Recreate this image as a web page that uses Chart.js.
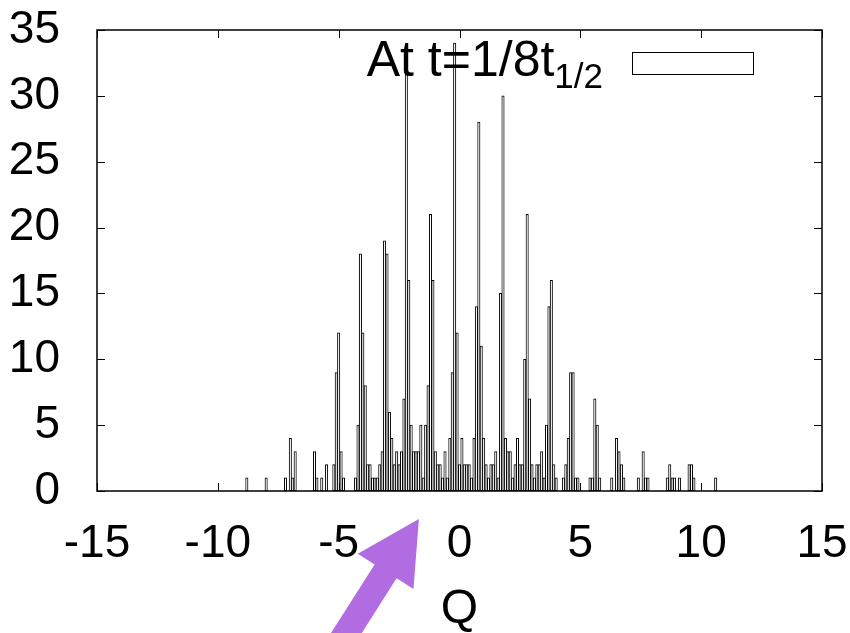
<!DOCTYPE html>
<html>
<head>
    <title>Q histogram at t=1/8 t1/2</title>
    <script src="https://cdn.jsdelivr.net/npm/chart.js"></script>
    <style>
        body {
            margin: 0;
            padding: 0;
            background-color: #ffffff;
        }

        #chart-wrap {
            width: 850px;
            height: 633px;
            position: relative;
        }
    </style>
</head>
<body>
    <div id="chart-wrap"><canvas id="histChart"></canvas></div>
    <script>
        // bin centres (Q) and counts, empty bins left out
        const qValues = [
            -8.8, -8.0, -7.2, -7.0, -6.9, -6.8, -6.0, -5.9, -5.7, -5.5,
            -5.2, -5.1, -5.0, -4.9, -4.8, -4.3, -4.2, -4.1, -4.0, -3.9,
            -3.8, -3.7, -3.6, -3.5, -3.4, -3.3, -3.2, -3.1, -3.0, -2.9,
            -2.8, -2.7, -2.6, -2.5, -2.4, -2.3, -2.2, -2.1, -2.0, -1.9,
            -1.8, -1.7, -1.6, -1.5, -1.4, -1.3, -1.2, -1.1, -1.0, -0.9,
            -0.8, -0.7, -0.6, -0.5, -0.4, -0.3, -0.2, -0.1, 0.0, 0.1,
            0.2, 0.3, 0.4, 0.5, 0.6, 0.7, 0.8, 0.9, 1.0, 1.1,
            1.2, 1.3, 1.4, 1.5, 1.6, 1.7, 1.8, 1.9, 2.0, 2.1,
            2.2, 2.3, 2.4, 2.5, 2.6, 2.7, 2.8, 2.9, 3.0, 3.1,
            3.2, 3.3, 3.4, 3.5, 3.6, 3.7, 3.8, 3.9, 4.0, 4.3,
            4.4, 4.5, 4.6, 4.7, 4.8, 4.9, 5.4, 5.5, 5.6, 5.7,
            5.8, 6.3, 6.5, 6.6, 6.7, 6.8, 7.4, 7.6, 7.7, 7.8,
            8.6, 8.7, 8.8, 8.9, 9.1, 9.5, 9.6, 9.7, 10.6
        ];
        const counts = [
            1, 1, 1, 4, 1, 3, 3, 1, 1, 2,
            2, 9, 12, 3, 1, 1, 5, 18, 12, 8,
            2, 2, 1, 1, 1, 2, 3, 19, 18, 6,
            4, 2, 3, 2, 3, 7, 32, 16, 5, 3,
            3, 3, 5, 1, 5, 8, 21, 16, 3, 2,
            2, 1, 3, 1, 4, 9, 34, 12, 2, 4,
            2, 2, 2, 1, 4, 14, 28, 11, 4, 2,
            1, 2, 2, 3, 1, 15, 30, 4, 3, 3,
            1, 2, 4, 2, 2, 10, 21, 7, 2, 1,
            2, 2, 3, 1, 5, 14, 16, 2, 1, 1,
            2, 4, 9, 9, 1, 1, 1, 1, 7, 5,
            1, 1, 4, 3, 2, 1, 1, 3, 1, 1,
            1, 2, 1, 1, 1, 2, 2, 1, 1
        ];
        const xRange = [-15, 15];
        const yRange = [0, 35];
        const tickStep = 5;
        const legendText = 'At t=1/8t';
        const legendSub = '1/2';
        const xTitle = 'Q';
        // purple pointer arrow, tip and tail given in axis units
        const arrowTip = { q: -1.68, v: -2.13 };
        const arrowTail = { q: -5.38, v: -12.8 };

        const FONT = '"Liberation Sans", Arial, Helvetica, sans-serif';
        const points = qValues.map((q, i) => ({ x: q, y: counts[i] }));

        // gnuplot style frame, inward ticks, key and the arrow
        const gnuplotBits = {
            id: 'gnuplotBits',
            afterDatasetsDraw(chart) {
                const { ctx, chartArea: a, scales: { x, y } } = chart;
                ctx.save();
                ctx.strokeStyle = '#000';
                ctx.lineWidth = 1.5;
                ctx.strokeRect(a.left, a.top, a.right - a.left, a.bottom - a.top);

                ctx.lineWidth = 1;
                ctx.beginPath();
                x.ticks.forEach(t => {
                    const px = Math.round(x.getPixelForValue(t.value)) + 0.5;
                    ctx.moveTo(px, a.bottom); ctx.lineTo(px, a.bottom - 8);
                    ctx.moveTo(px, a.top); ctx.lineTo(px, a.top + 8);
                });
                y.ticks.forEach(t => {
                    const py = Math.round(y.getPixelForValue(t.value)) + 0.5;
                    ctx.moveTo(a.left, py); ctx.lineTo(a.left + 8, py);
                    ctx.moveTo(a.right, py); ctx.lineTo(a.right - 8, py);
                });
                ctx.stroke();

                // key: text with subscript, then the sample box
                const boxRight = a.right - 69;
                const boxLeft = boxRight - 121;
                ctx.fillStyle = '#000';
                ctx.textBaseline = 'alphabetic';
                ctx.textAlign = 'left';
                ctx.font = '35px ' + FONT;
                const subW = ctx.measureText(legendSub).width;
                const subX = boxLeft - 29 - subW;
                ctx.fillText(legendSub, subX, 88);
                ctx.font = '50px ' + FONT;
                ctx.textAlign = 'right';
                ctx.fillText(legendText, subX, 76);
                ctx.fillStyle = '#fff';
                ctx.fillRect(boxLeft, 52, boxRight - boxLeft, 22);
                ctx.strokeRect(boxLeft + 0.5, 52.5, boxRight - boxLeft, 22);

                // arrow
                const tx = x.getPixelForValue(arrowTip.q), ty = y.getPixelForValue(arrowTip.v);
                const sx = x.getPixelForValue(arrowTail.q), sy = y.getPixelForValue(arrowTail.v);
                const len = Math.hypot(sx - tx, sy - ty);
                const ux = (sx - tx) / len, uy = (sy - ty) / len;
                const nx = -uy, ny = ux;
                const headLen = 62, headHalf = 33, shaftHalf = 13;
                const bx = tx + ux * headLen, by = ty + uy * headLen;
                ctx.fillStyle = '#b06ce0';
                ctx.beginPath();
                ctx.moveTo(tx, ty);
                ctx.lineTo(bx + nx * headHalf, by + ny * headHalf);
                ctx.lineTo(bx + nx * shaftHalf, by + ny * shaftHalf);
                ctx.lineTo(sx + nx * shaftHalf, sy + ny * shaftHalf);
                ctx.lineTo(sx - nx * shaftHalf, sy - ny * shaftHalf);
                ctx.lineTo(bx - nx * shaftHalf, by - ny * shaftHalf);
                ctx.lineTo(bx - nx * headHalf, by - ny * headHalf);
                ctx.closePath();
                ctx.fill();
                ctx.restore();
            }
        };

        new Chart(document.getElementById('histChart'), {
            type: 'bar',
            data: {
                datasets: [{
                    label: legendText + legendSub,
                    data: points,
                    backgroundColor: '#ffffff',
                    borderColor: '#000000',
                    borderWidth: 1,
                    borderSkipped: false,
                    barPercentage: 1.0,
                    categoryPercentage: 1.0
                }]
            },
            options: {
                responsive: true,
                maintainAspectRatio: false,
                animation: false,
                layout: { padding: { left: 0, right: 28, top: 30, bottom: 0 } },
                plugins: {
                    legend: { display: false },
                    tooltip: { enabled: false }
                },
                scales: {
                    x: {
                        type: 'linear',
                        min: xRange[0],
                        max: xRange[1],
                        offset: false,
                        grid: { display: false },
                        border: { display: false },
                        ticks: {
                            stepSize: tickStep,
                            color: '#000',
                            padding: 18,
                            maxRotation: 0,
                            font: { family: FONT, size: 46 }
                        },
                        title: {
                            display: true,
                            text: xTitle,
                            color: '#000',
                            padding: { top: 0, bottom: -6 },
                            font: { family: FONT, size: 48 }
                        },
                        afterFit(scale) {
                            scale.height = 142;
                            scale.paddingLeft = 0;
                            scale.paddingRight = 0;
                        }
                    },
                    y: {
                        min: yRange[0],
                        max: yRange[1],
                        grid: { display: false },
                        border: { display: false },
                        ticks: {
                            stepSize: tickStep,
                            color: '#000',
                            padding: 29,
                            font: { family: FONT, size: 46 }
                        },
                        afterFit(scale) {
                            scale.width = 97;
                            scale.paddingTop = 0;
                            scale.paddingBottom = 0;
                        }
                    }
                }
            },
            plugins: [gnuplotBits]
        });
    </script>
</body>
</html>
